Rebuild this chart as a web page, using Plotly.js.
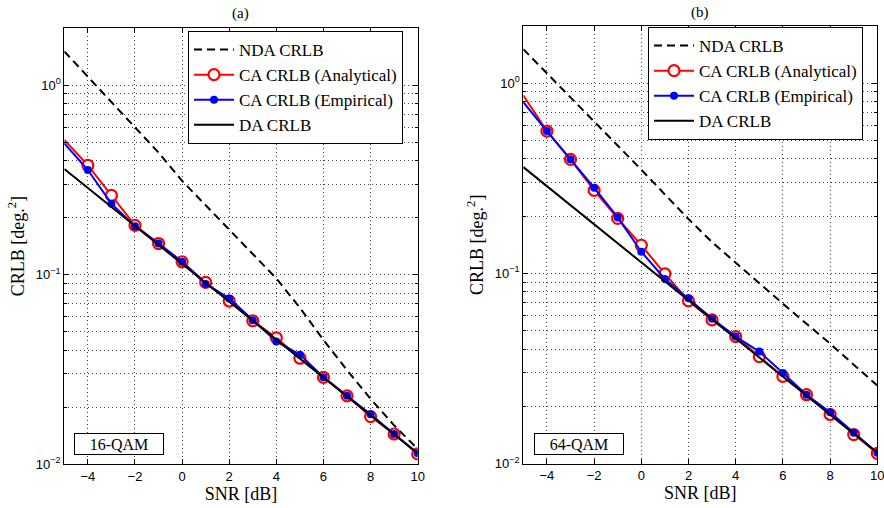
<!DOCTYPE html>
<html><head><meta charset="utf-8">
<script src="https://cdn.plot.ly/plotly-3.0.1.min.js"></script>
<style>html,body{margin:0;padding:0;background:#fff}#chart{width:884px;height:508px}</style>
</head><body><div id="chart"></div>
<script>
// SNR axis values [dB]
const snr = [-5,-4,-3,-2,-1,0,1,2,3,4,5,6,7,8,9,10];

// (a) 16-QAM
const nda16 = [1.51,1.11,0.817,0.600,0.441,0.313,0.232,0.172,0.129,0.0955,0.0668,0.0452,0.0313,0.0221,0.0160,0.0120];
const caAna16 = [0.515,0.378,0.262,0.182,0.146,0.117,0.091,0.0726,0.0571,0.0464,0.0362,0.0287,0.0229,0.0178,0.0144,0.0113];
const caEmp16 = [0.494,0.357,0.237,0.180,0.146,0.117,0.0893,0.0749,0.0574,0.0444,0.0378,0.0287,0.0229,0.0183,0.0144,0.0114];
const daSnr = [-5,10];
const da16 = [0.361,0.0114];

// (b) 64-QAM
const nda64 = [1.51,1.13,0.843,0.631,0.471,0.351,0.260,0.193,0.146,0.1135,0.0891,0.0692,0.0543,0.0427,0.0331,0.0257];
const caAna64 = [0.862,0.560,0.398,0.273,0.1945,0.1406,0.0995,0.0716,0.0569,0.0465,0.0365,0.0287,0.0230,0.0181,0.0142,0.0113];
const caEmp64 = [0.795,0.560,0.398,0.282,0.197,0.130,0.0935,0.0739,0.0578,0.0465,0.0388,0.0299,0.0230,0.0186,0.0145,0.0114];
const da64 = [0.362,0.0114];

// labels
const seriesNames = ['NDA CRLB','CA CRLB (Analytical)','CA CRLB (Empirical)','DA CRLB'];
const panelTitles = ['(a)','(b)'];
const panelTags = ['16-QAM','64-QAM'];
const yTickVals = [0.01,0.1,1];
const yTickText = ['10<sup>−2</sup>','10<sup>−1</sup>','10<sup>0</sup>'];
const yMinorVals = [0.02,0.03,0.04,0.05,0.06,0.07,0.08,0.09,0.2,0.3,0.4,0.5,0.6,0.7,0.8,0.9];

const serif = 'Liberation Serif';
const sans = 'Liberation Sans';
const W = 884, H = 508;
const gridDash = '1px,3px';
const gridCol = '#444';

function panelTraces(nda, ana, emp, da, xa, ya, leg) {
  return [
    {x: snr, y: nda, xaxis: xa, yaxis: ya, legend: leg, name: seriesNames[0], mode: 'lines',
     line: {color: '#000', width: 2, dash: '8px,5px'}},
    {x: snr.slice(0,2), y: ana.slice(0,2), xaxis: xa, yaxis: ya, mode: 'lines', showlegend: false,
     line: {color: '#ff0000', width: 2}},
    {x: snr.slice(1), y: ana.slice(1), xaxis: xa, yaxis: ya, legend: leg, name: seriesNames[1], mode: 'lines+markers',
     line: {color: '#ff0000', width: 2},
     marker: {symbol: 'circle', size: 11, color: '#fff', line: {color: '#ff0000', width: 2.2}}},
    {x: snr.slice(0,2), y: emp.slice(0,2), xaxis: xa, yaxis: ya, mode: 'lines', showlegend: false,
     line: {color: '#0000ff', width: 2}},
    {x: snr.slice(1), y: emp.slice(1), xaxis: xa, yaxis: ya, legend: leg, name: seriesNames[2], mode: 'lines+markers',
     line: {color: '#0000ff', width: 2},
     marker: {symbol: 'circle', size: 8, color: '#0000ff'}},
    {x: daSnr, y: da, xaxis: xa, yaxis: ya, legend: leg, name: seriesNames[3], mode: 'lines',
     line: {color: '#000', width: 2}}
  ];
}

const data = panelTraces(nda16, caAna16, caEmp16, da16, 'x', 'y', 'legend')
  .concat(panelTraces(nda64, caAna64, caEmp64, da64, 'x2', 'y2', 'legend2'));

function xAxis(domain, anchor) {
  return {domain: domain, anchor: anchor, range: [-5,10], tickmode: 'linear', tick0: 0, dtick: 2,
    ticks: 'inside', ticklen: 5, tickcolor: '#000', showline: true, linecolor: '#000', linewidth: 1,
    mirror: 'ticks', showgrid: true, gridcolor: gridCol, griddash: gridDash, gridwidth: 1, zeroline: false,
    ticklabeloverflow: 'allow',
    tickfont: {family: sans, size: 13, color: '#000'},
    title: {text: 'SNR [dB]', font: {family: serif, size: 18, color: '#000'}, standoff: 2}};
}
function yAxis(domain, anchor) {
  return {domain: domain, anchor: anchor, type: 'log', range: [-2, 0.301],
    tickmode: 'array', tickvals: yTickVals, ticktext: yTickText,
    ticks: 'inside', ticklen: 5, tickcolor: '#000', showline: true, linecolor: '#000', linewidth: 1,
    mirror: 'ticks', showgrid: true, gridcolor: gridCol, griddash: gridDash, gridwidth: 1, zeroline: false,
    minor: {tickmode: 'array', tickvals: yMinorVals, ticks: 'inside', ticklen: 3, tickcolor: '#000',
            showgrid: true, gridcolor: gridCol, griddash: gridDash, gridwidth: 1},
    tickfont: {family: sans, size: 13, color: '#000'},
    title: {text: 'CRLB [deg.<sup>2</sup>]', font: {family: serif, size: 18, color: '#000'}, standoff: 6}};
}

function legendAt(left, top) {
  return {x: left / W, y: (H - top) / H, xanchor: 'left', yanchor: 'top',
    bordercolor: '#000', borderwidth: 1, bgcolor: '#fff',
    font: {family: serif, size: 17, color: '#000'}, itemwidth: 40, tracegroupgap: 0};
}

function tagBox(text, cx, cy) {
  return {text: text, xref: 'paper', yref: 'paper', x: cx / W, y: (H - cy) / H,
    xanchor: 'center', yanchor: 'middle', showarrow: false, width: 88, height: 20,
    bordercolor: '#000', borderwidth: 1, borderpad: 0, bgcolor: '#fff',
    font: {family: serif, size: 16, color: '#000'}};
}
function panelTitle(text, cx, cy) {
  return {text: text, xref: 'paper', yref: 'paper', x: cx / W, y: (H - cy) / H,
    xanchor: 'center', yanchor: 'middle', showarrow: false,
    font: {family: serif, size: 15, color: '#000'}};
}

const layout = {
  width: W, height: H, margin: {l: 0, r: 0, t: 0, b: 0},
  paper_bgcolor: '#fff', plot_bgcolor: '#fff', showlegend: true,
  xaxis: xAxis([64.3 / W, 417.7 / W], 'y'),
  yaxis: yAxis([(H - 464) / H, (H - 28.3) / H], 'x'),
  xaxis2: xAxis([523.3 / W, 877.3 / W], 'y2'),
  yaxis2: yAxis([(H - 463.5) / H, (H - 26) / H], 'x2'),
  legend: legendAt(188, 31),
  legend2: legendAt(648, 27),
  annotations: [
    panelTitle(panelTitles[0], 241, 14),
    panelTitle(panelTitles[1], 700, 13),
    tagBox(panelTags[0], 119, 444),
    tagBox(panelTags[1], 578.5, 444)
  ]
};

Plotly.newPlot('chart', data, layout, {staticPlot: true, displayModeBar: false});
</script>
</body></html>
